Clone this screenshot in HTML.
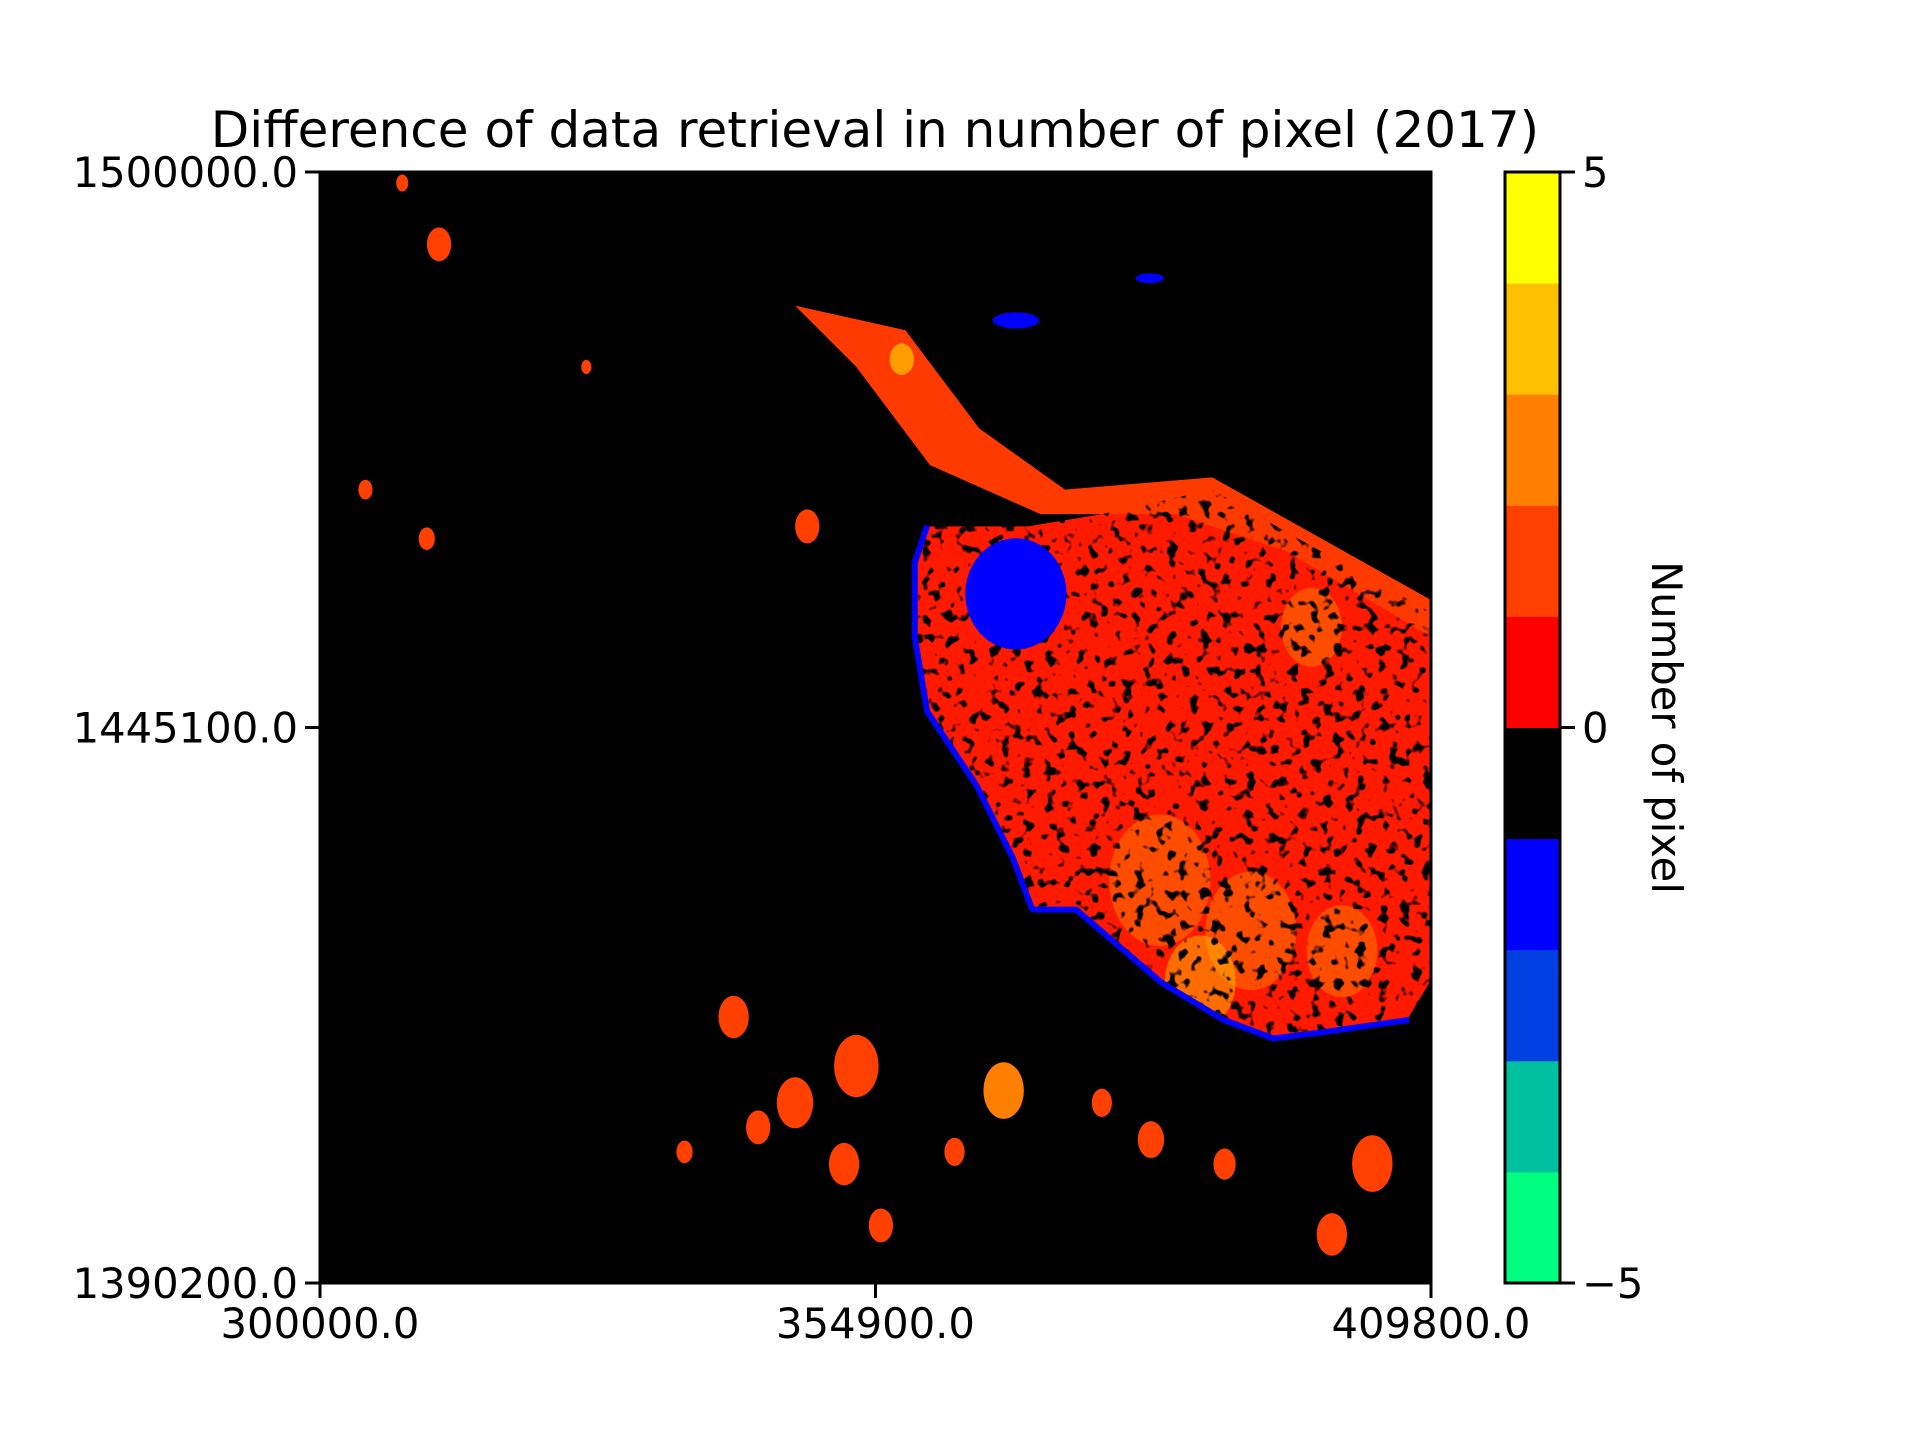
<!DOCTYPE html>
<html><head><meta charset="utf-8"><style>
html,body{margin:0;padding:0;background:#fff;width:1920px;height:1440px;overflow:hidden}
text{font-family:"DejaVu Sans","Liberation Sans",sans-serif;fill:#000}
</style></head><body>
<svg id="fig" width="1920" height="1440" viewBox="0 0 1920 1440" xmlns="http://www.w3.org/2000/svg">
<defs>
<filter id="speck" x="0" y="0" width="100%" height="100%">
<feTurbulence type="fractalNoise" baseFrequency="0.09" numOctaves="2" seed="3" result="n"/>
<feColorMatrix in="n" type="matrix" values="0 0 0 0 0  0 0 0 0 0  0 0 0 0 0  0 0 0 -9 3.8"/>
</filter>
<clipPath id="mainClip"><polygon id="clipPoly"/></clipPath>
</defs>
<text x="875" y="147" font-size="50" text-anchor="middle">Difference of data retrieval in number of pixel (2017)</text>
<g id="map"></g>
<g id="axes"></g>
<g id="cbar"></g>
</svg>
<script>
const xTicks=[300000,354900,409800];
const yTicks=[1390200,1445100,1500000];
const cbTicks=[-5,0,5];
const cbColors=['#00ff80','#00c0a0','#0040e0','#0000ff','#000000','#ff0000','#ff4000','#ff8000','#ffc000','#ffff00'];
const mainX=[360286,369990,377268,388185,396676,409800,409800,407593,399102,394250,389398,383333,374842,370597,368777,365138,362712,360286,359073,359073];
const mainY=[1464973,1464973,1466185,1468609,1463761,1456489,1420129,1416493,1415281,1414675,1416493,1420129,1427401,1427401,1432249,1439521,1443157,1446793,1454065,1461337];
const stripX=[346943,357860,365138,373629,388185,409800,409800,395463,384546,371203,360286,353008];
const stripY=[1486789,1484365,1474669,1468609,1469821,1457701,1454065,1462549,1466185,1466185,1471033,1480729];
const blobX=[340878,346943,353008,351795,355434,367564,377268,382120,389398,336026,343304,362712,311766,308127,304488,310553,326322,348156,404000,400000];
const blobY=[1416493,1408009,1411645,1401949,1395889,1409221,1408009,1404373,1401949,1403161,1405585,1403161,1492849,1498909,1468609,1463761,1480729,1464973,1402000,1395000];
const blobR=[1500,1800,2200,1500,1200,2000,1000,1300,1100,800,1200,1000,1200,600,700,800,500,1200,2000,1500];
const blobV=[1,1,1,1,1,2,1,1,1,1,1,1,1,1,1,1,1,1,1,1];
const hotX=[383000,392000,387000,401000,357500,367500,398000];
const hotY=[1430000,1425000,1420000,1423000,1481500,1409000,1455000];
const hotR=[5000,4500,3500,3500,1200,900,3000];
const hotV=[2,2,3,2,4,5,2];
const blueX=[368777,368777,382000];
const blueY=[1458307,1485335,1489500];
const blueR=[5000,2300,1400];
const NS='http://www.w3.org/2000/svg';
const X0=320,X1=1431,Y0=172,Y1=1283;
const sx=v=>X0+(v-300000)/(409800-300000)*(X1-X0);
const sy=v=>Y1-(v-1390200)/(1500000-1390200)*(Y1-Y0);
const sc=v=>Y1-(v+5)/10*(Y1-Y0);
const col=v=>cbColors[Math.min(9,Math.floor(v+5))];
function mk(t,a,p){const e=document.createElementNS(NS,t);for(const k in a)e.setAttribute(k,a[k]);p.appendChild(e);return e;}
const map=document.getElementById('map');
const bg=mk('rect',{x:X0,y:Y0,width:X1-X0,height:Y1-Y0,fill:'#000'},map);


const mainPts=mainX.map((x,i)=>sx(x)+','+sy(mainY[i])).join(' ');
document.getElementById('clipPoly').setAttribute('points',mainPts);
const edgeIdx=[7,8,9,10,11,12,13,14,15,16,17,18,19,0];
const mb=mk('polyline',{points:edgeIdx.map(i=>sx(mainX[i])+','+sy(mainY[i])).join(' '),fill:'none',stroke:'#0000ff','stroke-width':12,'stroke-linejoin':'round'},map);


const mp=mk('polygon',{points:mainPts,fill:'#ff1a00'},map);


const sp=mk('polygon',{points:stripX.map((x,i)=>sx(x)+','+sy(stripY[i])).join(' '),fill:'#ff3a00'},map);


const k=(X1-X0)/109800;
const hg=mk('g',{'clip-path':'url(#mainClip)'},map);


hotX.forEach((x,i)=>{const e=mk('ellipse',{cx:sx(x),cy:sy(hotY[i]),rx:hotR[i]*k,ry:hotR[i]*k*1.3,fill:col(hotV[i]),opacity:0.5},i>=4&&i<=5?map:hg);

});
const sg=mk('g',{'clip-path':'url(#mainClip)'},map);


mk('rect',{x:X0,y:Y0,width:X1-X0,height:Y1-Y0,filter:'url(#speck)'},sg);
blueX.forEach((x,i)=>{const e=mk('ellipse',{cx:sx(x),cy:sy(blueY[i]),rx:blueR[i]*k,ry:blueR[i]*k*(i?0.35:1.1),fill:'#0000ff'},map);

});
blobX.forEach((x,i)=>{const e=mk('ellipse',{cx:sx(x),cy:sy(blobY[i]),rx:blobR[i]*k,ry:blobR[i]*k*1.4,fill:col(blobV[i])},map);

});
const ax=document.getElementById('axes');
const fr=mk('rect',{x:X0,y:Y0,width:X1-X0,height:Y1-Y0,fill:'none',stroke:'#000','stroke-width':3},ax);


xTicks.forEach(v=>{const x=sx(v);mk('line',{x1:x,x2:x,y1:Y1,y2:Y1+15,stroke:'#000','stroke-width':3},ax);
const t=mk('text',{x:x,y:Y1+55,'font-size':41.7,'text-anchor':'middle'},ax);t.textContent=v.toFixed(1);

});
yTicks.forEach(v=>{const y=sy(v);mk('line',{x1:X0-15,x2:X0,y1:y,y2:y,stroke:'#000','stroke-width':3},ax);
const t=mk('text',{x:X0-22,y:y+15,'font-size':41.7,'text-anchor':'end'},ax);t.textContent=v.toFixed(1);

});
const cb=document.getElementById('cbar');
const CX0=1505,CX1=1560;
cbColors.forEach((c,i)=>{const y1=sc(i-5),y0=sc(i-4);const r=mk('rect',{x:CX0,y:y0,width:CX1-CX0,height:y1-y0+0.5,fill:c},cb);

});
mk('rect',{x:CX0,y:Y0,width:CX1-CX0,height:Y1-Y0,fill:'none',stroke:'#000','stroke-width':3},cb);
cbTicks.forEach(v=>{const y=sc(v);mk('line',{x1:CX1,x2:CX1+15,y1:y,y2:y,stroke:'#000','stroke-width':3},cb);
const t=mk('text',{x:CX1+22,y:y+15,'font-size':41.7},cb);t.textContent=v<0?'\u2212'+(-v):String(v);

});
const cl=mk('text',{x:1652,y:(Y0+Y1)/2,'font-size':41.7,'text-anchor':'middle',transform:'rotate(90 1652 '+(Y0+Y1)/2+')'},cb);
cl.textContent='Number of pixel';


</script>
</body></html>
